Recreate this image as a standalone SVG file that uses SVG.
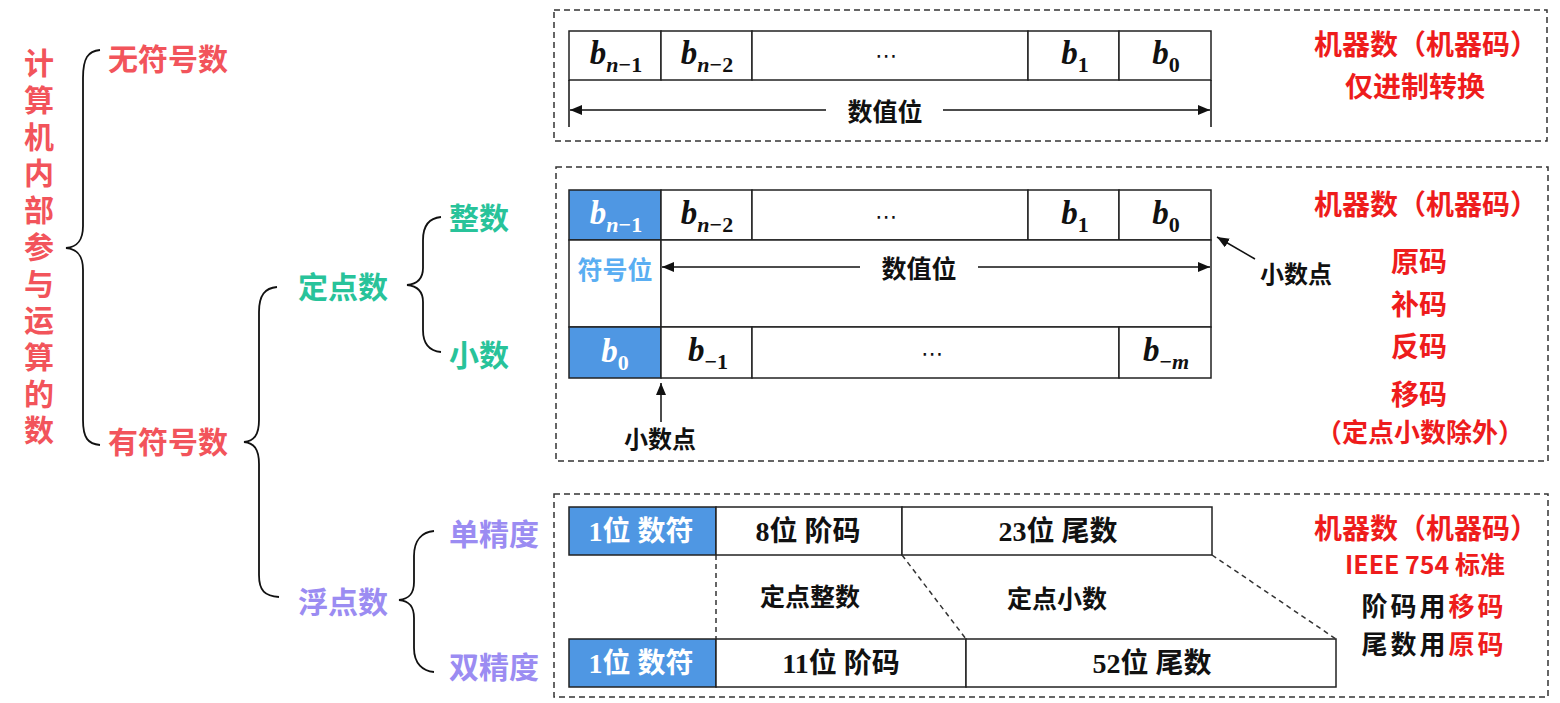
<svg xmlns="http://www.w3.org/2000/svg" width="1560" height="703" viewBox="0 0 1560 703">
<defs>
<style>
.cn{font-family:"Noto Sans CJK SC","Noto Sans CJK JP",sans-serif;font-weight:700;dominant-baseline:central}
.red{fill:#EE1C1C}
.coral{fill:#F2545B}
.teal{fill:#28C39A}
.purple{fill:#9B8CF2}
.blk{fill:#111}
.cell{fill:#fff;stroke:#222;stroke-width:1.5}
.sign{fill:#4F97E3;stroke:#222;stroke-width:1.5}
.dbox{fill:none;stroke:#333;stroke-width:1.5;stroke-dasharray:6 4}
.brace{fill:none;stroke:#111;stroke-width:1.8}
.ln{fill:none;stroke:#111;stroke-width:1.5}
.dl{fill:none;stroke:#333;stroke-width:1.5;stroke-dasharray:5 4}
.bl{font-family:"Liberation Serif",serif;font-weight:700;font-style:italic;font-size:33px;fill:#111}
.sub{font-size:22px}
.up{font-style:normal}
.dots{font-family:"DejaVu Sans",sans-serif;font-size:22px;fill:#111;dominant-baseline:central}
.mix{font-family:"Liberation Serif","Noto Sans CJK SC",serif;font-weight:700;font-size:28px;dominant-baseline:central}
</style>
<marker id="ah" viewBox="0 0 12 10" refX="12" refY="5" markerWidth="12" markerHeight="10" markerUnits="userSpaceOnUse" orient="auto-start-reverse">
<path d="M0,0 L12,5 L0,10 z" fill="#111"/>
</marker>
</defs>
<rect width="1560" height="703" fill="#fff"/>

<g id="title">
<text class="coral" x="39" y="48" font-size="30" letter-spacing="6.7" style="font-family:'Noto Sans CJK SC','Noto Sans CJK JP',sans-serif;font-weight:700;writing-mode:vertical-rl">计算机内部参与运算的数</text>
</g>

<g id="unsigned"><text class="cn coral" font-size="30" x="108" y="57">无符号数</text></g>
<g id="signed"><text class="cn coral" font-size="30" x="108" y="440">有符号数</text></g>
<g id="fixed"><text class="cn teal" font-size="30" x="298" y="285">定点数</text></g>
<g id="float"><text class="cn purple" font-size="30" x="298" y="600">浮点数</text></g>
<g id="integer"><text class="cn teal" font-size="30" x="449" y="216">整数</text></g>
<g id="fraction"><text class="cn teal" font-size="30" x="449" y="353">小数</text></g>
<g id="single"><text class="cn purple" font-size="30" x="449" y="532">单精度</text></g>
<g id="double"><text class="cn purple" font-size="30" x="449" y="665">双精度</text></g>

<g id="box-unsigned">
<rect class="dbox" x="554" y="10" width="993" height="131"/>
<rect class="cell" x="569" y="31" width="92" height="49"/>
<rect class="cell" x="661" y="31" width="91" height="49"/>
<rect class="cell" x="752" y="31" width="276" height="49"/>
<rect class="cell" x="1028" y="31" width="91" height="49"/>
<rect class="cell" x="1119" y="31" width="92" height="49"/>
<text class="bl" x="616" y="64" text-anchor="middle">b<tspan class="sub" dy="8">n</tspan><tspan class="sub up">−1</tspan></text>
<text class="bl" x="707" y="64" text-anchor="middle">b<tspan class="sub" dy="8">n</tspan><tspan class="sub up">−2</tspan></text>
<text class="dots" x="886" y="55" text-anchor="middle">⋯</text>
<text class="bl" x="1075" y="64" text-anchor="middle">b<tspan class="sub up" dy="8">1</tspan></text>
<text class="bl" x="1166" y="64" text-anchor="middle">b<tspan class="sub up" dy="8">0</tspan></text>
<text class="cn blk" font-size="25" x="885" y="110" text-anchor="middle">数值位</text>
<text class="cn red" font-size="28" x="1426" y="43" text-anchor="middle">机器数（机器码）</text>
<text class="cn red" font-size="28" x="1415" y="85" text-anchor="middle">仅进制转换</text>
</g>

<g id="box-fixed">
<rect class="dbox" x="556" y="167" width="992" height="294"/>
<rect class="sign" x="569" y="190" width="92" height="50"/>
<rect class="cell" x="661" y="190" width="91" height="50"/>
<rect class="cell" x="752" y="190" width="276" height="50"/>
<rect class="cell" x="1028" y="190" width="91" height="50"/>
<rect class="cell" x="1119" y="190" width="92" height="50"/>
<rect class="cell" x="569" y="240" width="92" height="87"/>
<rect class="cell" x="661" y="240" width="550" height="87"/>
<rect class="sign" x="569" y="327" width="92" height="51"/>
<rect class="cell" x="661" y="327" width="91" height="51"/>
<rect class="cell" x="752" y="327" width="367" height="51"/>
<rect class="cell" x="1119" y="327" width="92" height="51"/>
<text class="bl" x="616" y="224" text-anchor="middle" style="fill:#fff">b<tspan class="sub" dy="8">n</tspan><tspan class="sub up">−1</tspan></text>
<text class="bl" x="707" y="224" text-anchor="middle">b<tspan class="sub" dy="8">n</tspan><tspan class="sub up">−2</tspan></text>
<text class="dots" x="886" y="216" text-anchor="middle">⋯</text>
<text class="bl" x="1075" y="224" text-anchor="middle">b<tspan class="sub up" dy="8">1</tspan></text>
<text class="bl" x="1166" y="224" text-anchor="middle">b<tspan class="sub up" dy="8">0</tspan></text>
<text class="cn" font-size="25" x="615" y="268" text-anchor="middle" fill="#5AAEF2">符号位</text>
<text class="cn blk" font-size="25" x="919" y="267" text-anchor="middle">数值位</text>
<text class="bl" x="615" y="362" text-anchor="middle" style="fill:#fff">b<tspan class="sub up" dy="8">0</tspan></text>
<text class="bl" x="708" y="361" text-anchor="middle">b<tspan class="sub up" dy="8">−1</tspan></text>
<text class="dots" x="932" y="353" text-anchor="middle">⋯</text>
<text class="bl" x="1166" y="361" text-anchor="middle">b<tspan class="sub up" dy="8">−</tspan><tspan class="sub">m</tspan></text>
<text class="cn blk" font-size="24" x="660" y="437" text-anchor="middle">小数点</text>
<text class="cn blk" font-size="24" x="1296" y="272" text-anchor="middle">小数点</text>
<text class="cn red" font-size="28" x="1426" y="203" text-anchor="middle">机器数（机器码）</text>
<text class="cn red" font-size="28" x="1419" y="260" text-anchor="middle">原码</text>
<text class="cn red" font-size="28" x="1419" y="303" text-anchor="middle">补码</text>
<text class="cn red" font-size="28" x="1419" y="345" text-anchor="middle">反码</text>
<text class="cn red" font-size="28" x="1419" y="393" text-anchor="middle">移码</text>
<text class="cn red" font-size="26" x="1420" y="430" text-anchor="middle">（定点小数除外）</text>
</g>

<g id="box-float">
<rect class="dbox" x="554" y="494" width="994" height="203"/>
<rect class="sign" x="569" y="507" width="147" height="48"/>
<rect class="cell" x="716" y="507" width="186" height="48"/>
<rect class="cell" x="902" y="507" width="310" height="48"/>
<rect class="sign" x="569" y="639" width="147" height="48"/>
<rect class="cell" x="716" y="639" width="250" height="48"/>
<rect class="cell" x="966" y="639" width="370" height="48"/>
<text class="mix" x="641" y="531" text-anchor="middle" fill="#fff">1位 数符</text>
<text class="mix blk" x="808" y="531" text-anchor="middle">8位 阶码</text>
<text class="mix blk" x="1058" y="531" text-anchor="middle">23位 尾数</text>
<text class="mix" x="641" y="663" text-anchor="middle" fill="#fff">1位 数符</text>
<text class="mix blk" x="841" y="663" text-anchor="middle">11位 阶码</text>
<text class="mix blk" x="1152" y="663" text-anchor="middle">52位 尾数</text>
<text class="cn blk" font-size="25" x="810" y="595" text-anchor="middle">定点整数</text>
<text class="cn blk" font-size="25" x="1057" y="597" text-anchor="middle">定点小数</text>
<text class="cn red" font-size="28" x="1426" y="527" text-anchor="middle">机器数（机器码）</text>
<text class="cn red" font-size="25" x="1425" y="563" text-anchor="middle">IEEE 754 标准</text>
<text class="cn blk" font-size="26" letter-spacing="3" x="1434" y="604" text-anchor="middle">阶码用<tspan class="red">移码</tspan></text>
<text class="cn blk" font-size="26" letter-spacing="3" x="1434" y="642" text-anchor="middle">尾数用<tspan class="red">原码</tspan></text>
</g>

<g id="connectors">
<path class="brace" d="M100,50 C88,51 83,58 83,78 L83,226 C83,241 77,247 66,248 C77,249 83,255 83,270 L83,420 C83,438 88,444 100,445"/>
<path class="brace" d="M277,287 C265,288 259,295 259,312 L259,420 C259,435 254,441 244,442 C254,443 259,449 259,464 L259,575 C259,591 265,596 279,597"/>
<path class="brace" d="M441,217 C430,218 423,225 423,240 L423,268 C423,279 417,284 407,285 C417,286 423,291 423,302 L423,330 C423,345 430,351 441,352"/>
<path class="brace" d="M434,531 C423,532 414,539 414,556 L414,582 C414,594 409,599 399,600 C409,601 414,606 414,618 L414,648 C414,664 423,671 434,672"/>
<line class="ln" x1="569" y1="80" x2="569" y2="127"/>
<line class="ln" x1="1211" y1="80" x2="1211" y2="127"/>
<line class="ln" x1="826" y1="110" x2="570" y2="110" marker-end="url(#ah)"/>
<line class="ln" x1="943" y1="110" x2="1210" y2="110" marker-end="url(#ah)"/>
<line class="ln" x1="860" y1="267" x2="662" y2="267" marker-end="url(#ah)"/>
<line class="ln" x1="978" y1="267" x2="1210" y2="267" marker-end="url(#ah)"/>
<line class="ln" x1="661" y1="422" x2="661" y2="383" marker-end="url(#ah)"/>
<line class="ln" x1="1255" y1="259" x2="1217" y2="237" marker-end="url(#ah)"/>
<line class="dl" x1="716" y1="555" x2="716" y2="639"/>
<line class="dl" x1="902" y1="555" x2="966" y2="639"/>
<line class="dl" x1="1212" y1="555" x2="1336" y2="639"/>
</g>
</svg>
